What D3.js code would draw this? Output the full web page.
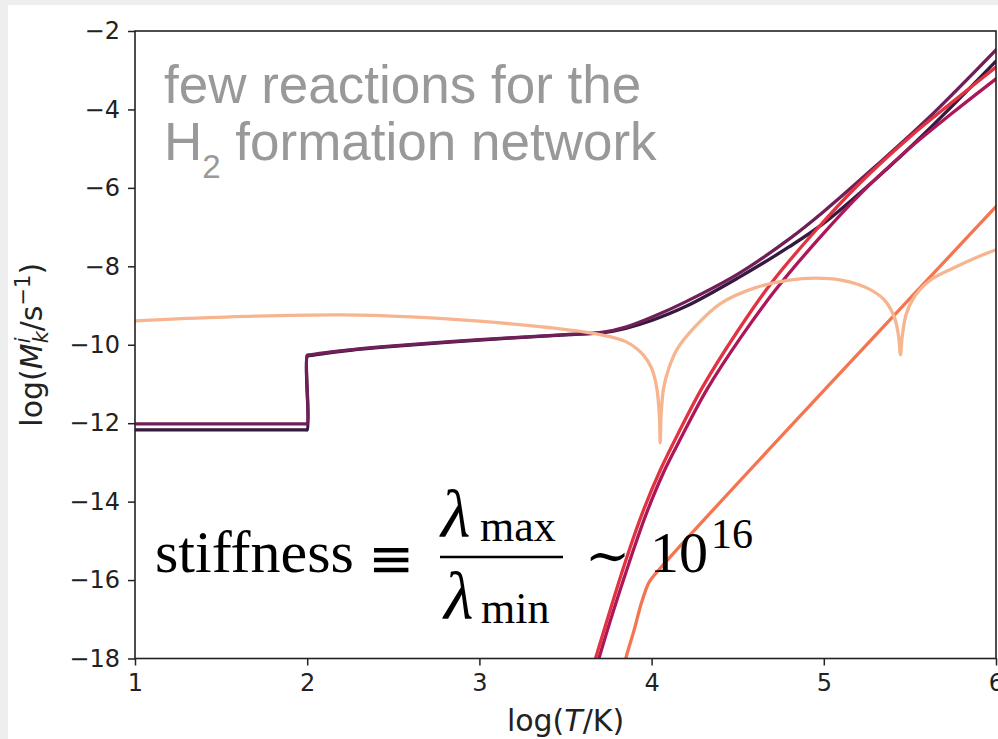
<!DOCTYPE html>
<html>
<head>
<meta charset="utf-8">
<script src="https://cdn.jsdelivr.net/npm/d3@7"></script>
<style>
  html, body { margin: 0; padding: 0; background: #eeeeee; }
  svg { display: block; }
</style>
</head>
<body>
<svg id="chart" width="998" height="739"></svg>
<script>
// Axis ticks
const xTicks = [1, 2, 3, 4, 5, 6];
const yTicks = [-18, -16, -14, -12, -10, -8, -6, -4, -2];

// Reaction rates, log(M/s^-1) against log(T/K), one array per reaction
const rateDark = [
  [1.0, -12.17], [1.99, -12.17], [2.0, -12.17], [2.0, -10.29], [2.01, -10.28],
  [2.25, -10.14], [2.5, -10.04], [3.0, -9.88], [3.5, -9.75], [3.72, -9.69],
  [3.85, -9.58], [4.0, -9.38], [4.2, -9.02], [4.5, -8.3], [4.8, -7.5],
  [5.0, -6.9], [5.3, -5.78], [5.6, -4.55], [6.0, -2.77]
];
const ratePurple = [
  [1.0, -12.02], [1.99, -12.02], [2.0, -12.02], [2.0, -10.27], [2.01, -10.26],
  [2.25, -10.13], [2.5, -10.03], [3.0, -9.87], [3.5, -9.74], [3.72, -9.68],
  [3.85, -9.55], [4.0, -9.3], [4.2, -8.9], [4.5, -8.2], [4.8, -7.3],
  [5.0, -6.6], [5.3, -5.45], [5.6, -4.25], [6.0, -2.48]
];
const rateMagenta = [
  [3.66, -18.5], [3.77, -16.9], [3.87, -15.55], [3.97, -14.3], [4.07, -13.25],
  [4.17, -12.38], [4.32, -11.15], [4.52, -9.8], [4.72, -8.6], [4.97, -7.3],
  [5.22, -6.12], [5.5, -4.98], [5.75, -4.08], [6.0, -3.22]
];
const rateRed = [
  [3.64, -18.5], [3.75, -16.9], [3.85, -15.5], [3.95, -14.25], [4.05, -13.2],
  [4.15, -12.3], [4.3, -11.05], [4.5, -9.65], [4.7, -8.4], [4.95, -7.1],
  [5.2, -5.92], [5.5, -4.7], [5.75, -3.8], [6.0, -2.92]
];
const rateOrange = [
  [3.83, -18.4], [3.85, -18.0], [3.9, -17.25], [3.94, -16.6], [3.98, -16.1],
  [4.0, -15.96], [6.0, -6.48]
];
const ratePeach = [
  [1.0, -9.39], [1.3, -9.33], [1.7, -9.27], [2.2, -9.24], [2.6, -9.29],
  [3.0, -9.4], [3.4, -9.56], [3.7, -9.74], [3.85, -9.92], [3.95, -10.25],
  [4.0, -10.6], [4.03, -11.1], [4.045, -11.8], [4.05, -12.5], [4.055, -11.8],
  [4.07, -11.1], [4.1, -10.6], [4.15, -10.1], [4.25, -9.55], [4.4, -8.95],
  [4.6, -8.55], [4.8, -8.35], [4.95, -8.3], [5.1, -8.35], [5.25, -8.55],
  [5.35, -8.85], [5.41, -9.3], [5.435, -9.8], [5.445, -10.25], [5.455, -9.8],
  [5.48, -9.2], [5.53, -8.75], [5.62, -8.35], [5.75, -8.05], [5.9, -7.75],
  [6.0, -7.58]
];

const seriesList = [rateDark, ratePurple, rateMagenta, rateRed, rateOrange, ratePeach];
const seriesColors = ["#35193e", "#701f57", "#ad1759", "#e13342", "#f37651", "#f6b48f"];

const svg = d3.select("#chart");

// card background
svg.append("rect").attr("x", 8).attr("y", 5).attr("width", 990).attr("height", 734)
  .attr("fill", "#ffffff");

const plot = { left: 135, right: 996, top: 31, bottom: 658.5 };

const x = d3.scaleLinear().domain([1, 6]).range([plot.left, plot.right]);
const y = d3.scaleLinear().domain([-18, -2]).range([plot.bottom, plot.top]);

svg.append("defs").append("clipPath").attr("id", "plotClip")
  .append("rect")
  .attr("x", plot.left).attr("y", plot.top)
  .attr("width", plot.right - plot.left).attr("height", plot.bottom - plot.top);

const line = d3.line()
  .x(d => x(d[0]))
  .y(d => y(d[1]))
  .curve(d3.curveCatmullRom.alpha(0.5));

const curves = svg.append("g").attr("clip-path", "url(#plotClip)");
seriesList.forEach((s, i) => {
  curves.append("path")
    .datum(s)
    .attr("d", line)
    .attr("fill", "none")
    .attr("stroke", seriesColors[i])
    .attr("stroke-width", 3.3)
    .attr("stroke-linejoin", "round")
    .attr("stroke-linecap", "round");
});

// axes
const tickFont = "DejaVu Sans, sans-serif";
const fmt = d3.format("d");

const xAxis = svg.append("g")
  .attr("transform", `translate(0,${plot.bottom})`)
  .call(d3.axisBottom(x).tickValues(xTicks).tickFormat(fmt).tickSize(7).tickPadding(8).tickSizeOuter(0));
const yAxis = svg.append("g")
  .attr("transform", `translate(${plot.left},0)`)
  .call(d3.axisLeft(y).tickValues(yTicks).tickFormat(fmt).tickSize(7).tickPadding(8).tickSizeOuter(0));

[xAxis, yAxis].forEach(g => {
  g.select(".domain").remove();
  g.selectAll(".tick line").attr("stroke", "#222").attr("stroke-width", 1.5);
  g.selectAll(".tick text").attr("fill", "#222")
    .style("font-family", tickFont).style("font-size", "24px");
});

// frame
svg.append("rect")
  .attr("x", plot.left).attr("y", plot.top)
  .attr("width", plot.right - plot.left).attr("height", plot.bottom - plot.top)
  .attr("fill", "none").attr("stroke", "#222").attr("stroke-width", 1.6);

// axis titles
const xLabel = svg.append("text")
  .attr("x", (plot.left + plot.right) / 2).attr("y", 731)
  .attr("text-anchor", "middle")
  .style("font-family", tickFont).style("font-size", "30px").attr("fill", "#222");
xLabel.append("tspan").text("log(");
xLabel.append("tspan").style("font-style", "italic").text("T");
xLabel.append("tspan").text("/K)");

const yLabel = svg.append("text")
  .attr("transform", `translate(42,${(plot.top + plot.bottom) / 2}) rotate(-90)`)
  .attr("text-anchor", "middle")
  .style("font-family", tickFont).style("font-size", "30px").attr("fill", "#222");
yLabel.append("tspan").text("log(");
yLabel.append("tspan").style("font-style", "italic").text("M");
yLabel.append("tspan").style("font-style", "italic").style("font-size", "21px")
  .attr("dy", 6).text("k");
yLabel.append("tspan").style("font-style", "italic").style("font-size", "21px")
  .attr("dx", -12).attr("dy", -18).text("i");
yLabel.append("tspan").attr("dx", 6).attr("dy", 12).text("/s");
yLabel.append("tspan").style("font-size", "21px").attr("dy", -12).text("−1");
yLabel.append("tspan").attr("dy", 12).text(")");

// network annotation
const noteFont = "Liberation Sans, Arial, sans-serif";
svg.append("text").attr("x", 164).attr("y", 103)
  .style("font-family", noteFont).style("font-size", "53px").attr("fill", "#999999")
  .text("few reactions for the");
const note2 = svg.append("text").attr("x", 164).attr("y", 160)
  .style("font-family", noteFont).style("font-size", "53px").attr("fill", "#999999");
note2.append("tspan").text("H");
note2.append("tspan").style("font-size", "33px").attr("dy", 18).text("2");
note2.append("tspan").attr("dy", -18).text(" formation network");

// stiffness formula
const serif = "Liberation Serif, DejaVu Serif, serif";
const f = svg.append("g").attr("fill", "#000");
f.append("text").attr("x", 155).attr("y", 572)
  .style("font-family", serif).style("font-size", "60px").text("stiffness");
f.append("text").attr("x", 368).attr("y", 577)
  .attr("textLength", 46).attr("lengthAdjust", "spacingAndGlyphs")
  .style("font-family", "DejaVu Sans, sans-serif").style("font-size", "54px").text("≡");
f.append("text").attr("x", 441).attr("y", 537)
  .style("font-family", serif).style("font-size", "68px").style("font-style", "italic").text("λ");
f.append("text").attr("x", 480).attr("y", 541)
  .style("font-family", serif).style("font-size", "44px").text("max");
f.append("line").attr("x1", 440).attr("x2", 563).attr("y1", 557).attr("y2", 557)
  .attr("stroke", "#000").attr("stroke-width", 2.4);
f.append("text").attr("x", 444).attr("y", 619)
  .style("font-family", serif).style("font-size", "68px").style("font-style", "italic").text("λ");
f.append("text").attr("x", 481).attr("y", 623)
  .style("font-family", serif).style("font-size", "44px").text("min");
f.append("text").attr("x", 585).attr("y", 574)
  .style("font-family", "DejaVu Serif, serif").style("font-size", "54px").text("∼");
f.append("text").attr("x", 650).attr("y", 572)
  .style("font-family", serif).style("font-size", "58px").text("10");
f.append("text").attr("x", 711).attr("y", 548)
  .style("font-family", serif).style("font-size", "42px").text("16");
</script>
</body>
</html>
